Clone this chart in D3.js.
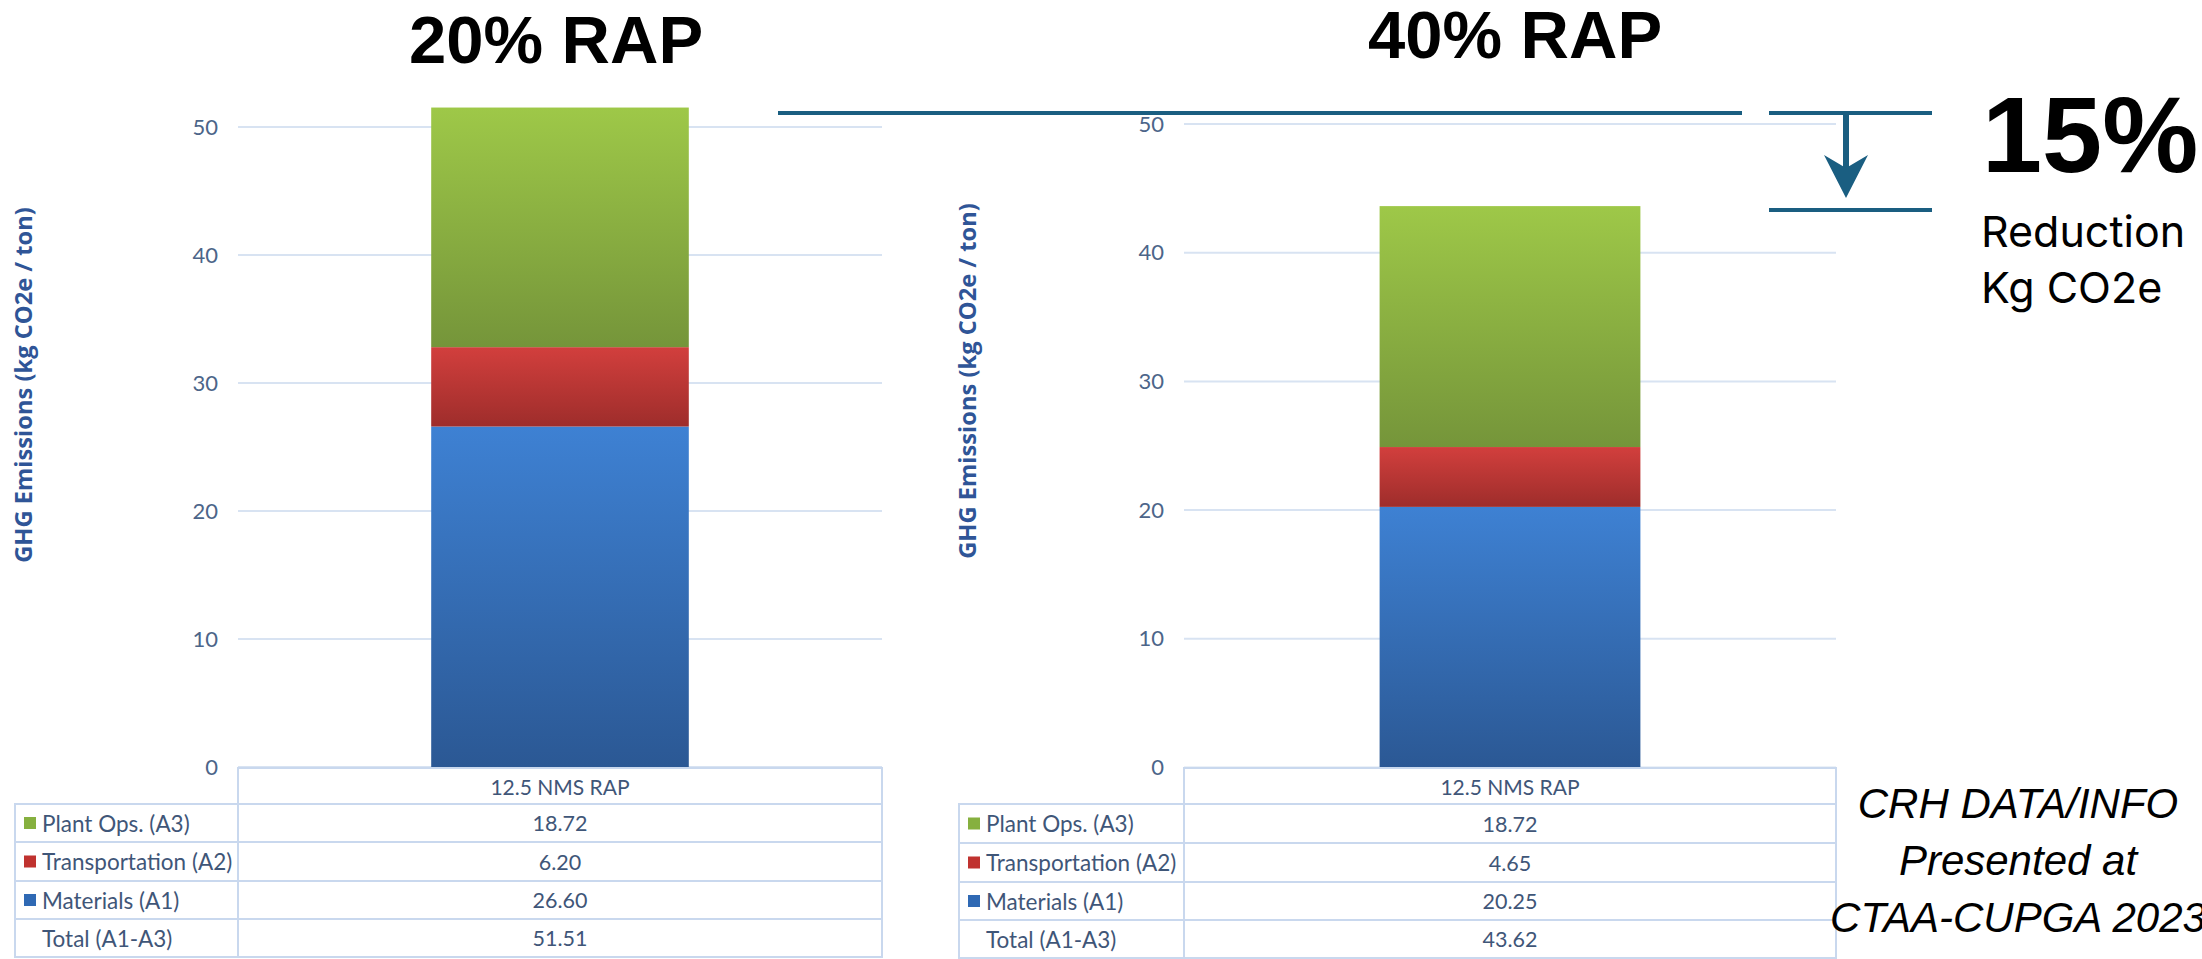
<!DOCTYPE html>
<html><head><meta charset="utf-8">
<script src="https://cdn.jsdelivr.net/npm/d3@7"></script>
<style>html,body{margin:0;padding:0;background:#fff;} svg{display:block}</style>
</head><body><svg id="c" width="2202" height="959"></svg>
<script>
// ---------- data ----------
const categories = ["12.5 NMS RAP"];
const seriesKeys = ["Materials (A1)", "Transportation (A2)", "Plant Ops. (A3)"];
const rap20Values = [26.60, 6.20, 18.72];
const rap40Values = [20.25, 4.65, 18.72];
const rap20Total = 51.51;
const rap40Total = 43.62;
const panelTitles = ["20% RAP", "40% RAP"];
const yTickValues = [0, 10, 20, 30, 40, 50];
const tableRowOrder = ["Plant Ops. (A3)", "Transportation (A2)", "Materials (A1)", "Total (A1-A3)"];
const yAxisTitle = "GHG Emissions (kg CO2e / ton)";
const reductionLines = ["Reduction", "Kg CO2e"];
const sourceLines = ["CRH DATA/INFO", "Presented at", "CTAA-CUPGA 2023"];

// ---------- styles ----------
const seriesColors = {
  "Materials (A1)":      {top: "#3E81D3", bottom: "#2B5894", swatch: "#2F69B4"},
  "Transportation (A2)": {top: "#D23F3D", bottom: "#9E2D2B", swatch: "#C0322F"},
  "Plant Ops. (A3)":     {top: "#9EC848", bottom: "#75953A", swatch: "#86B03F"}
};
const gridColor = "#D8E3F2";
const tableColor = "#C9D8EE";
const tickColor = "#4C6589";
const tableText = "#3F5678";
const axisTitleColor = "#2F5597";
const annotColor = "#1A5E81";
const labelFont = "Lato, 'Noto Sans', sans-serif";

const svg = d3.select("#c");
const defs = svg.append("defs");
seriesKeys.forEach((k, i) => {
  const g = defs.append("linearGradient").attr("id", "grad" + i)
    .attr("x1", 0).attr("y1", 0).attr("x2", 0).attr("y2", 1);
  g.append("stop").attr("offset", "0%").attr("stop-color", seriesColors[k].top);
  g.append("stop").attr("offset", "100%").attr("stop-color", seriesColors[k].bottom);
});

const panels = [
  {title: panelTitles[0], values: rap20Values, total: rap20Total,
   x0: 238, x1: 882, yBase: 767, y50: 127, tableLeft: 15,
   titleX: 556, titleY: 63, axisTitleX: 23, axisTitleY: 385,
   rowTops: [768, 804, 842, 881, 919, 957]},
  {title: panelTitles[1], values: rap40Values, total: rap40Total,
   x0: 1184, x1: 1836, yBase: 767.5, y50: 124, tableLeft: 959,
   titleX: 1515, titleY: 58, axisTitleX: 967, axisTitleY: 381,
   rowTops: [768, 804, 843, 882, 920, 958]}
];

panels.forEach(p => {
  const g = svg.append("g");
  const y = d3.scaleLinear().domain([0, 50]).range([p.yBase, p.y50]);
  const x = d3.scaleBand().domain(categories).range([p.x0, p.x1]).padding(3 / 7);

  // title
  g.append("text").attr("x", p.titleX).attr("y", p.titleY)
    .attr("text-anchor", "middle")
    .style("font-family", "'Liberation Sans', Arial, sans-serif")
    .style("font-weight", "bold").style("font-size", "67px").attr("fill", "#000")
    .text(p.title);

  // gridlines
  g.append("g").selectAll("line").data(yTickValues).join("line")
    .attr("x1", p.x0).attr("x2", p.x1)
    .attr("y1", d => y(d)).attr("y2", d => y(d))
    .attr("stroke", gridColor).attr("stroke-width", 2);

  // y axis labels via d3 axis
  const ax = g.append("g").attr("transform", `translate(${p.x0 - 8},0)`)
    .call(d3.axisLeft(y).tickValues(yTickValues).tickSize(0).tickPadding(12).tickFormat(d3.format("d")));
  ax.select(".domain").remove();
  ax.selectAll("text").attr("fill", tickColor)
    .style("font-family", labelFont).style("font-size", "22px");

  // axis title
  g.append("text")
    .attr("transform", `translate(${p.axisTitleX},${p.axisTitleY}) rotate(-90)`)
    .attr("text-anchor", "middle").attr("dominant-baseline", "central")
    .style("font-family", "'Open Sans', sans-serif").style("font-weight", "bold")
    .style("font-size", "23.7px").attr("fill", axisTitleColor)
    .text(yAxisTitle);

  // stacked bars
  const row = {category: categories[0]};
  seriesKeys.forEach((k, i) => row[k] = p.values[i]);
  const stacked = d3.stack().keys(seriesKeys)([row]);
  g.append("g").selectAll("g").data(stacked).join("g")
    .attr("fill", (d, i) => `url(#grad${i})`)
    .selectAll("rect").data(d => d).join("rect")
    .attr("x", d => x(d.data.category))
    .attr("width", x.bandwidth())
    .attr("y", d => y(d[1]))
    .attr("height", d => y(d[0]) - y(d[1]));

  // data table
  const t = g.append("g");
  const rt = p.rowTops;
  t.append("rect").attr("x", p.x0).attr("y", rt[0]).attr("width", p.x1 - p.x0).attr("height", rt[1] - rt[0])
    .attr("fill", "#fff").attr("stroke", tableColor).attr("stroke-width", 2);
  t.append("text").attr("x", x(categories[0]) + x.bandwidth() / 2).attr("y", (rt[0] + rt[1]) / 2)
    .attr("text-anchor", "middle").attr("dominant-baseline", "central")
    .style("font-family", labelFont).style("font-size", "21px").attr("fill", tableText)
    .text(categories[0]);

  const valueByName = {};
  seriesKeys.forEach((k, i) => valueByName[k] = d3.format(".2f")(p.values[i]));
  valueByName["Total (A1-A3)"] = d3.format(".2f")(p.total);

  tableRowOrder.forEach((name, i) => {
    const top = rt[i + 1], bot = rt[i + 2], cy = (top + bot) / 2;
    t.append("rect").attr("x", p.tableLeft).attr("y", top).attr("width", p.x0 - p.tableLeft).attr("height", bot - top)
      .attr("fill", "#fff").attr("stroke", tableColor).attr("stroke-width", 2);
    t.append("rect").attr("x", p.x0).attr("y", top).attr("width", p.x1 - p.x0).attr("height", bot - top)
      .attr("fill", "#fff").attr("stroke", tableColor).attr("stroke-width", 2);
    if (seriesColors[name]) {
      t.append("rect").attr("x", p.tableLeft + 9).attr("y", cy - 6).attr("width", 12).attr("height", 12)
        .attr("fill", seriesColors[name].swatch);
    }
    t.append("text").attr("x", p.tableLeft + 27).attr("y", cy)
      .attr("dominant-baseline", "central")
      .style("font-family", labelFont).style("font-size", "22.5px").attr("fill", tableText)
      .text(name);
    t.append("text").attr("x", x(categories[0]) + x.bandwidth() / 2).attr("y", cy)
      .attr("text-anchor", "middle").attr("dominant-baseline", "central")
      .style("font-family", labelFont).style("font-size", "21.5px").attr("fill", tableText)
      .text(valueByName[name]);
  });
});

// ---------- reduction annotation ----------
const a = svg.append("g").attr("stroke", annotColor).attr("stroke-width", 4).attr("fill", "none");
a.append("line").attr("x1", 778).attr("x2", 1742).attr("y1", 113).attr("y2", 113);
a.append("line").attr("x1", 1769).attr("x2", 1932).attr("y1", 113).attr("y2", 113);
a.append("line").attr("x1", 1769).attr("x2", 1932).attr("y1", 210).attr("y2", 210);
a.append("line").attr("x1", 1846).attr("x2", 1846).attr("y1", 113).attr("y2", 172).attr("stroke-width", 6);
svg.append("path").attr("d", "M1824,155 L1846,198 L1868,155 L1846,168 Z").attr("fill", annotColor);

const pct = Math.round((rap20Total - rap40Total) / rap20Total * 100);
svg.append("text").attr("x", 1982).attr("y", 172)
  .style("font-family", "'Liberation Sans', Arial, sans-serif").style("font-weight", "bold")
  .style("font-size", "108px").attr("fill", "#000").text(pct + "%");
reductionLines.forEach((s, i) => {
  svg.append("text").attr("x", 1981).attr("y", 247 + i * 56)
    .style("font-family", "Inter, sans-serif").style("font-size", "43px").attr("fill", "#000").text(s);
});
sourceLines.forEach((s, i) => {
  svg.append("text").attr("x", 2018).attr("y", 818 + i * 57).attr("text-anchor", "middle")
    .style("font-family", "'Liberation Sans', Arial, sans-serif").style("font-style", "italic")
    .style("font-size", "42px").attr("fill", "#000").text(s);
});
</script></body></html>
